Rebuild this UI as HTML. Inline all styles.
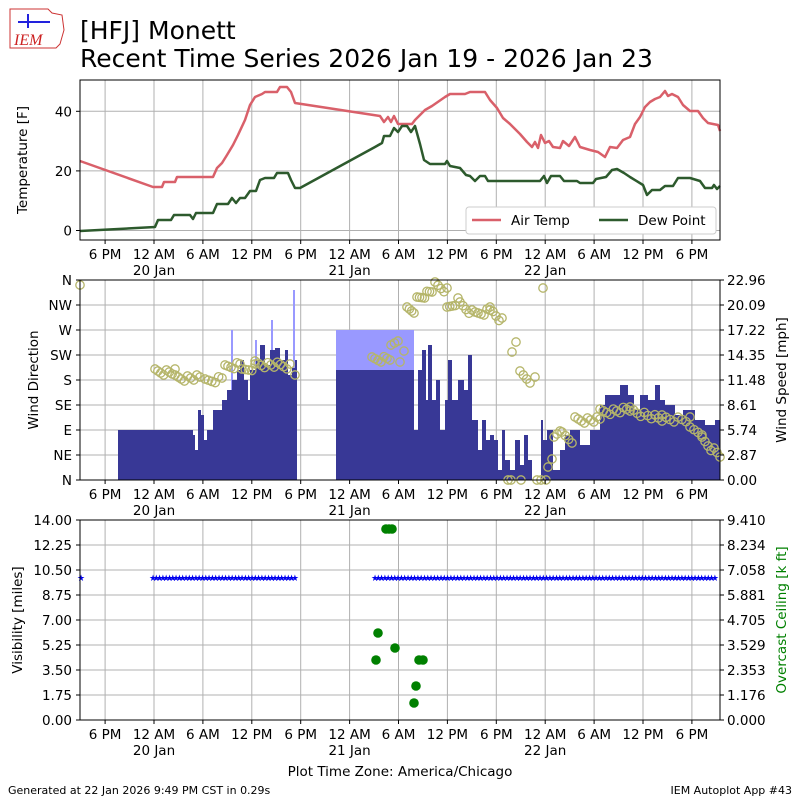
<!DOCTYPE html>
<html><head><meta charset="utf-8"><style>
body{margin:0;background:#fff;}
svg{display:block;font-family:"DejaVu Sans","Liberation Sans",sans-serif;}
</style></head><body>
<svg id="s" width="800" height="800" xmlns="http://www.w3.org/2000/svg">
<rect width="800" height="800" fill="#fff"/>
<g id="g"></g>
</svg>
<script>
const g=document.getElementById('g');let h='';
const X0=105.1,D=48.9,FS=13.5;
const ticks=[];for(let i=0;i<13;i++)ticks.push(X0+i*D);
const tl=['6 PM','12 AM','6 AM','12 PM','6 PM','12 AM','6 AM','12 PM','6 PM','12 AM','6 AM','12 PM','6 PM'];
function panel(top,bot,yt){
  for(const x of ticks)h+=`<line x1="${x}" x2="${x}" y1="${top}" y2="${bot}" stroke="#b0b0b0" stroke-width="1"/>`;
  for(const y of yt)h+=`<line x1="80" x2="720" y1="${y}" y2="${y}" stroke="#b0b0b0" stroke-width="1"/>`;
}
function frame(top,bot){
  h+=`<rect x="80" y="${top}" width="640" height="${bot-top}" fill="none" stroke="#000" stroke-width="1"/>`;
  ticks.forEach((x,i)=>{h+=`<line x1="${x}" x2="${x}" y1="${bot}" y2="${bot+4}" stroke="#000"/><text x="${x}" y="${bot+19}" font-size="${FS}" text-anchor="middle">${tl[i]}</text>`;});
  [['20 Jan',ticks[1]],['21 Jan',ticks[5]],['22 Jan',ticks[9]]].forEach(([t,x])=>h+=`<text x="${x}" y="${bot+35}" font-size="${FS}" text-anchor="middle">${t}</text>`);
}
// header
h+=`<path d="M10,9 L48,9 L52,13 L62,15 L64,30 L60,44 L56,48 L10,48 Z" fill="#fff" stroke="#c33" stroke-width="1"/>`;
h+=`<line x1="18" y1="22" x2="50" y2="22" stroke="#22d" stroke-width="2"/><line x1="28" y1="14" x2="28" y2="28" stroke="#22d" stroke-width="2"/>`;
h+=`<text x="14" y="45" font-size="16" font-style="italic" fill="#c22" font-family="Liberation Serif,serif">IEM</text>`;
h+=`<text x="80" y="39" font-size="25">[HFJ] Monett</text><text x="80" y="67" font-size="25">Recent Time Series 2026 Jan 19 - 2026 Jan 23</text>`;
// panel1
const ty=t=>230.5-2.98*t;
panel(80,240,[ty(0),ty(20),ty(40)]);
const red=[[80,161],[153,187],[162,187],[164,182],[175,182],[177,177],[213,177],[217,168],[222,163],[227,155],[233,145],[238,135],[245,120],[250,105],[255,97],[262,94],[265,92],[277,92],[280,87],[287,87],[291,92],[295,103],[380,116],[384,122],[388,117],[391,122],[394,116],[398,124],[412,124],[415,120],[420,115],[425,110],[432,106],[445,97],[450,94],[465,94],[470,92],[485,92],[490,100],[497,108],[503,118],[510,124],[520,134],[527,142],[532,147],[535,142],[538,148],[541,135],[545,143],[549,141],[553,147],[560,148],[563,141],[569,146],[575,137],[580,147],[590,150],[598,152],[605,157],[610,147],[617,148],[623,140],[630,137],[635,124],[640,117],[645,107],[650,102],[655,99],[660,97],[665,91],[668,96],[672,94],[678,97],[683,105],[690,111],[698,111],[703,118],[708,123],[718,125],[720,131]];
const grn=[[80,231],[155,227],[158,220],[171,220],[174,215],[190,215],[193,219],[196,213],[213,213],[217,204],[228,204],[232,198],[236,203],[240,198],[245,198],[250,191],[256,191],[260,180],[265,178],[274,178],[277,173],[288,173],[291,180],[295,188],[300,188],[375,147],[382,143],[384,136],[390,136],[394,128],[398,132],[402,126],[407,126],[411,132],[415,126],[420,144],[424,160],[430,164],[445,164],[447,161],[450,166],[460,168],[466,175],[470,176],[475,181],[480,176],[485,176],[488,181],[512,181],[540,181],[544,176],[547,183],[551,176],[560,176],[564,181],[577,181],[580,183],[593,183],[596,179],[606,177],[612,170],[617,169],[624,173],[630,177],[643,185],[647,195],[652,190],[660,190],[665,186],[673,186],[678,178],[690,178],[700,181],[705,188],[712,188],[714,185],[717,189],[720,186]];
const pl=(a,c)=>`<polyline points="${a.map(p=>p.join(',')).join(' ')}" fill="none" stroke="${c}" stroke-width="2.5" stroke-linejoin="round"/>`;
h+=pl(red,'#d9606a')+pl(grn,'#2d5a2d');
h+=`<rect x="466" y="207" width="250" height="27" fill="#fff" stroke="#ccc" rx="3"/>`;
h+=`<line x1="472" y1="220" x2="501" y2="220" stroke="#d9606a" stroke-width="2.5"/><text x="511" y="225" font-size="${FS}">Air Temp</text>`;
h+=`<line x1="599" y1="220" x2="628" y2="220" stroke="#2d5a2d" stroke-width="2.5"/><text x="638" y="225" font-size="${FS}">Dew Point</text>`;
frame(80,240);
[[0,ty(0)],[20,ty(20)],[40,ty(40)]].forEach(([t,y])=>h+=`<line x1="76" x2="80" y1="${y}" y2="${y}" stroke="#000"/><text x="72" y="${y+5}" font-size="${FS}" text-anchor="end">${t}</text>`);
h+=`<text transform="translate(27,160) rotate(-90)" font-size="${FS}" text-anchor="middle">Temperature [F]</text>`;
// panel2
const yl=[];for(let i=0;i<=8;i++)yl.push(280+25*i);
panel(280,480,yl);
h+=`<rect x="336" y="330" width="78" height="40" fill="#9999ff"/>`;
[[231,233,330],[255,257,340],[271,273,320],[293,295,290]].forEach(([a,b,y])=>h+=`<rect x="${a}" y="${y}" width="${b-a}" height="${480-y}" fill="#9999ff"/>`);
const bars=[[118,193,430],[193,195,435],[195,198,450],[198,201,410],[201,204,415],[204,207,440],[207,213,430],[213,222,410],[222,227,400],[227,232,390],[232,237,380],[237,240,370],[240,244,360],[244,248,380],[248,250,400],[250,256,370],[256,260,360],[260,265,345],[265,270,365],[270,275,350],[275,280,348],[280,285,360],[285,288,350],[288,292,375],[292,295,368],[295,297,360],[336,414,370],[414,418,430],[418,422,370],[422,426,350],[426,428,400],[428,432,345],[432,436,400],[436,440,380],[440,445,430],[445,448,400],[448,452,360],[452,458,400],[458,464,380],[464,468,390],[468,472,355],[472,478,420],[478,482,450],[482,486,420],[486,490,440],[490,494,435],[494,498,440],[498,502,470],[502,505,430],[505,510,460],[510,515,470],[515,520,440],[520,524,465],[524,528,435],[528,532,460],[541,543,420],[543,547,440],[547,553,430],[553,560,470],[560,565,450],[565,570,435],[570,575,430],[575,580,430],[580,590,445],[590,600,430],[600,605,405],[605,620,395],[620,628,385],[628,634,395],[634,640,410],[640,648,395],[648,655,400],[655,660,385],[660,665,400],[665,675,405],[675,683,415],[683,695,410],[695,705,420],[705,715,425],[715,720,420]];
bars.forEach(([a,b,y])=>h+=`<rect x="${a}" y="${y}" width="${b-a}" height="${480-y}" fill="#383896"/>`);
const pts=[[80,285]];
function add(x0,x1,y0,y1,n){for(let i=0;i<n;i++){const f=n>1?i/(n-1):0;pts.push([x0+(x1-x0)*f,y0+(y1-y0)*f+((i*37)%7-3)]);}}
add(155,175,372,372,8);add(175,200,378,378,9);add(205,222,382,378,6);add(225,240,368,364,6);add(242,255,372,366,5);add(255,290,364,366,12);add(295,297,378,378,1);
add(372,390,360,358,7);add(391,398,348,340,3);add(400,404,365,352,2);add(407,414,310,310,4);add(417,432,300,290,7);add(435,447,285,290,5);add(447,458,310,300,5);add(460,472,305,312,5);add(475,490,315,310,6);add(490,502,310,320,5);add(512,516,355,343,2);add(520,530,374,380,4);add(535,535,380,380,1);add(543,543,291,291,1);
add(548,552,470,460,2);add(554,560,440,430,3);add(562,572,435,440,4);add(575,600,420,420,9);add(600,630,412,410,10);add(630,662,410,420,10);add(662,690,418,420,8);add(690,702,430,432,4);add(702,720,440,455,7);
[[508,480],[511,480],[521,480],[537,480],[541,480],[546,480]].forEach(p=>pts.push(p));
pts.forEach(([x,y])=>h+=`<circle cx="${x}" cy="${y}" r="4.2" fill="none" stroke="#b5b56a" stroke-width="1.3"/>`);
frame(280,480);
['N','NE','E','SE','S','SW','W','NW','N'].forEach((t,i)=>{const y=480-25*i;h+=`<line x1="76" x2="80" y1="${y}" y2="${y}" stroke="#000"/><text x="72" y="${y+5}" font-size="${FS}" text-anchor="end">${t}</text>`;});
['0.00','2.87','5.74','8.61','11.48','14.35','17.22','20.09','22.96'].forEach((t,i)=>{const y=480-25*i;h+=`<line x1="720" x2="724" y1="${y}" y2="${y}" stroke="#000"/><text x="727" y="${y+5}" font-size="${FS}">${t}</text>`;});
h+=`<text transform="translate(38,380) rotate(-90)" font-size="${FS}" text-anchor="middle">Wind Direction</text>`;
h+=`<text transform="translate(786,380) rotate(-90)" font-size="${FS}" text-anchor="middle">Wind Speed [mph]</text>`;
// panel3
const yl3=[];for(let i=0;i<=8;i++)yl3.push(520+25*i);
panel(520,720,yl3);
function stars(a,b){for(let x=a;x<=b;x+=3.3)h+=`<text x="${x}" y="581" font-size="9" fill="#0000ee" text-anchor="middle">★</text>`;}
stars(81,82);stars(153,298);stars(375,718);
[[386,529],[389,529],[392,529],[378,633],[376,660],[395,648],[419,660],[423,660],[416,686],[414,703]].forEach(([x,y])=>h+=`<circle cx="${x}" cy="${y}" r="4.8" fill="#008000"/>`);
frame(520,720);
['0.00','1.75','3.50','5.25','7.00','8.75','10.50','12.25','14.00'].forEach((t,i)=>{const y=720-25*i;h+=`<line x1="76" x2="80" y1="${y}" y2="${y}" stroke="#000"/><text x="72" y="${y+5}" font-size="${FS}" text-anchor="end">${t}</text>`;});
['0.000','1.176','2.353','3.529','4.705','5.881','7.058','8.234','9.410'].forEach((t,i)=>{const y=720-25*i;h+=`<line x1="720" x2="724" y1="${y}" y2="${y}" stroke="#000"/><text x="727" y="${y+5}" font-size="${FS}">${t}</text>`;});
h+=`<text transform="translate(22,620) rotate(-90)" font-size="${FS}" text-anchor="middle">Visibility [miles]</text>`;
h+=`<text transform="translate(786,620) rotate(-90)" font-size="${FS}" text-anchor="middle" fill="#008000">Overcast Ceiling [k ft]</text>`;
h+=`<text x="400" y="776" font-size="${FS}" text-anchor="middle">Plot Time Zone: America/Chicago</text>`;
h+=`<text x="8" y="794" font-size="11">Generated at 22 Jan 2026 9:49 PM CST in 0.29s</text>`;
h+=`<text x="792" y="794" font-size="11" text-anchor="end">IEM Autoplot App #43</text>`;
g.innerHTML=h;
</script>
</body></html>
